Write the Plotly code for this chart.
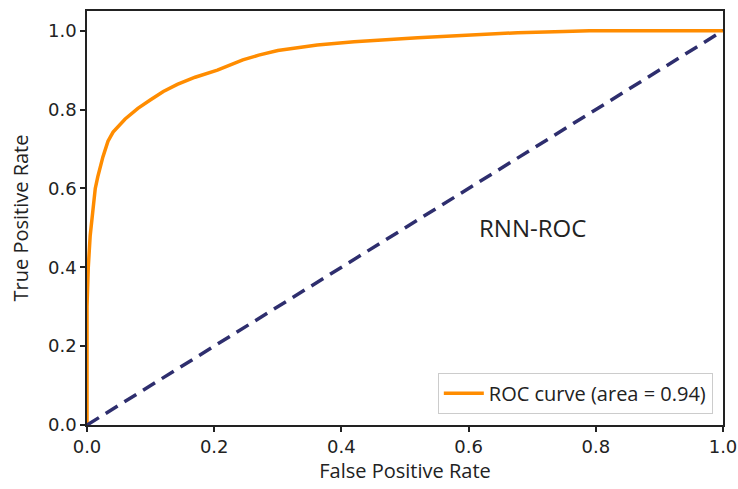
import plotly.graph_objects as go

fpr = [0.0, 0.0, 0.002, 0.005, 0.009, 0.013, 0.017, 0.025, 0.033, 0.041, 0.06, 0.08, 0.10, 0.12,
       0.142, 0.17, 0.205, 0.225, 0.245, 0.27, 0.30, 0.362, 0.42, 0.52, 0.60, 0.677, 0.75, 0.79, 0.85, 1.0]
tpr = [0.0, 0.30, 0.40, 0.48, 0.54, 0.60, 0.63, 0.68, 0.72, 0.743, 0.776, 0.803, 0.825, 0.846,
       0.864, 0.882, 0.90, 0.912, 0.926, 0.938, 0.950, 0.964, 0.972, 0.982, 0.988, 0.995, 0.998, 1.0, 1.0, 1.0]
diag_x = [0.0, 1.0]
diag_y = [0.0, 1.0]
tick_vals = [0.0, 0.2, 0.4, 0.6, 0.8, 1.0]
tick_text = ["0.0", "0.2", "0.4", "0.6", "0.8", "1.0"]

fig = go.Figure()
fig.add_trace(go.Scatter(x=fpr, y=tpr, mode="lines", name="ROC curve (area = 0.94)",
                         line=dict(color="#ff8c00", width=3.5)))
fig.add_trace(go.Scatter(x=diag_x, y=diag_y, mode="lines", showlegend=False,
                         line=dict(color="#2e2e6e", width=3.5, dash="14px,8px")))

fig.add_annotation(x=0.7, y=0.5, text="RNN-ROC", showarrow=False,
                   font=dict(family="Open Sans", size=24, color="#222222"))

axis_common = dict(showgrid=False, zeroline=False, showline=True, linecolor="#222222",
                   linewidth=1.5, mirror=True, ticks="outside", ticklen=5, tickwidth=1.5,
                   tickcolor="#222222", tickvals=tick_vals, ticktext=tick_text,
                   automargin=False,
                   tickfont=dict(family="DejaVu Sans", size=18, color="#222222"))

fig.update_xaxes(range=[0, 1], title=dict(text="False Positive Rate",
                 font=dict(family="Open Sans", size=20, color="#222222"), standoff=6),
                 **axis_common)
fig.update_yaxes(range=[0, 1.05], title=dict(text="True Positive Rate",
                 font=dict(family="Open Sans", size=20, color="#222222"), standoff=14),
                 **axis_common)

fig.update_layout(
    width=738, height=489,
    margin=dict(l=87, r=15, t=11, b=64),
    paper_bgcolor="white", plot_bgcolor="white",
    showlegend=True,
    legend=dict(x=0.984, y=0.027, xanchor="right", yanchor="bottom",
                bgcolor="white", bordercolor="#cccccc", borderwidth=1,
                tracegroupgap=0, itemwidth=40,
                font=dict(family="Open Sans", size=20, color="#222222")),
)

fig.write_html("out.html")
